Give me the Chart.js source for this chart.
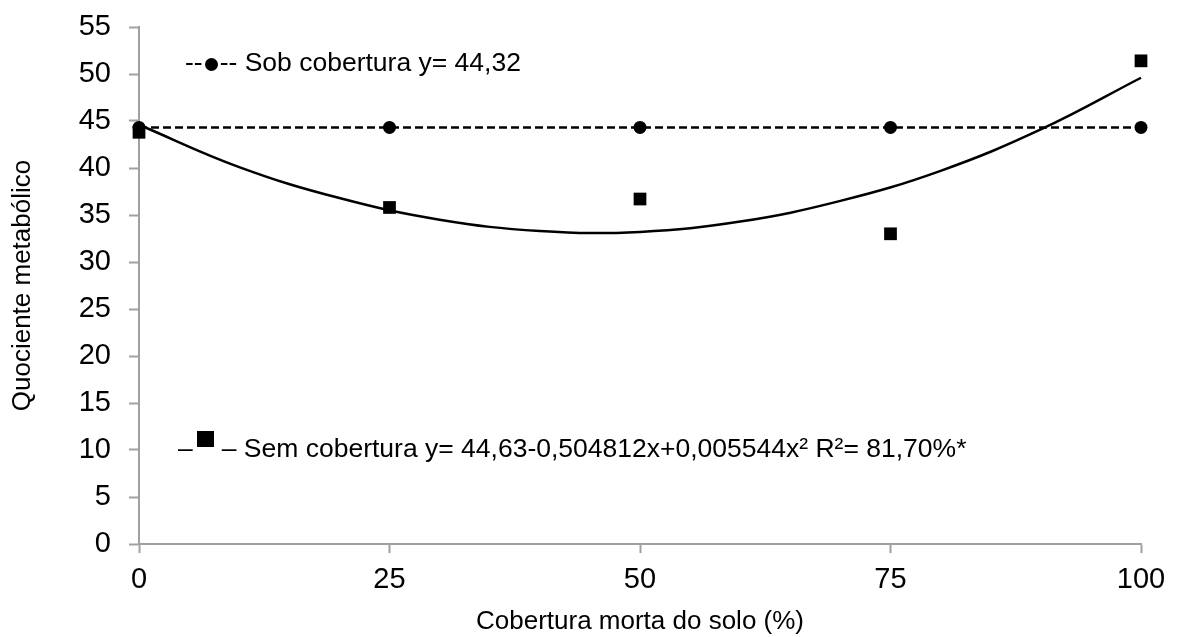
<!DOCTYPE html>
<html>
<head>
<meta charset="utf-8">
<script src="https://cdn.jsdelivr.net/npm/chart.js@4"></script>
<style>
  body { margin: 0; background: #fff; }
  #wrap { position: relative; width: 1180px; height: 637px; }
  .leg { position: absolute; font-family: "Liberation Sans", Arial, sans-serif; font-size: 26.5px; line-height: 30px; color: #000; white-space: nowrap; }
  .dot { display: inline-block; width: 13px; height: 13px; border-radius: 50%; background: #000; vertical-align: middle; margin: 0 2px; }
  .sq { display: inline-block; width: 17px; height: 16px; background: #000; vertical-align: 10px; margin: 0 8px 0 4px; }
</style>
</head>
<body>
<div id="wrap">
  <canvas id="grafico" width="1180" height="637"></canvas>
  <div class="leg" style="left:185px; top:47px;">--<span class="dot"></span>-- Sob cobertura y= 44,32</div>
  <div class="leg" style="left:178px; top:431px;">–<span class="sq"></span>– Sem cobertura y= 44,63-0,504812x+0,005544x² R²= 81,70%*</div>
</div>
<script>
// Dados
const coberturas = [0, 25, 50, 75, 100];
const sobCobertura = [44.32, 44.32, 44.32, 44.32, 44.32];
const semCobertura = [43.8, 35.8, 36.7, 33.0, 51.4];

// Curva ajustada
const xCurva = [0, 10, 20, 30, 40, 50, 60, 70, 80, 90, 100];
const yCurva = [44.6, 40.1, 36.8, 34.5, 33.3, 33.2, 34.3, 36.5, 39.7, 44.1, 49.6];

const xTicks = [0, 25, 50, 75, 100];
const yTicks = [0, 5, 10, 15, 20, 25, 30, 35, 40, 45, 50, 55];

const pares = (xs, ys) => xs.map((x, i) => ({ x: x, y: ys[i] }));

const cinza = '#a0a0a0';
const fonte = "'Liberation Sans', Arial, sans-serif";

const ctx = document.getElementById('grafico').getContext('2d');
new Chart(ctx, {
  type: 'line',
  data: {
    datasets: [
      {
        label: 'Sob cobertura',
        data: pares(coberturas, sobCobertura),
        borderColor: '#000',
        backgroundColor: '#000',
        borderWidth: 2.5,
        borderDash: [8, 4],
        pointStyle: 'circle',
        pointRadius: 6.5,
        pointBorderWidth: 0,
        fill: false,
        clip: false
      },
      {
        label: 'Sem cobertura',
        data: pares(coberturas, semCobertura),
        showLine: false,
        borderColor: '#000',
        backgroundColor: '#000',
        pointStyle: 'rect',
        pointRadius: 9,
        pointBorderWidth: 0,
        clip: false
      },
      {
        label: 'Ajuste',
        data: pares(xCurva, yCurva),
        borderColor: '#000',
        borderWidth: 2.5,
        pointRadius: 0,
        tension: 0.4,
        fill: false,
        clip: false
      }
    ]
  },
  options: {
    responsive: false,
    animation: false,
    devicePixelRatio: 1,
    layout: { padding: { top: 27, right: 39, left: 0, bottom: 0 } },
    plugins: {
      legend: { display: false },
      tooltip: { enabled: false }
    },
    scales: {
      x: {
        type: 'linear',
        min: 0,
        max: 100,
        afterBuildTicks: (s) => { s.ticks = xTicks.map(v => ({ value: v })); },
        afterFit: (s) => { s.height = 93; s.paddingLeft = 0; s.paddingRight = 0; },
        grid: { drawOnChartArea: false, drawTicks: true, tickLength: 9, tickWidth: 2, color: cinza },
        border: { color: cinza, width: 2 },
        ticks: { color: '#000', font: { family: fonte, size: 29 }, padding: 10, maxRotation: 0 },
        title: {
          display: true,
          text: 'Cobertura morta do solo (%)',
          color: '#000',
          font: { family: fonte, size: 26 },
          padding: { top: 0, bottom: 0 }
        }
      },
      y: {
        min: 0,
        max: 55,
        afterBuildTicks: (s) => { s.ticks = yTicks.map(v => ({ value: v })); },
        afterFit: (s) => { s.width = 139; s.paddingTop = 0; s.paddingBottom = 0; },
        grid: { drawOnChartArea: false, drawTicks: true, tickLength: 10, tickWidth: 2, color: cinza },
        border: { color: cinza, width: 2 },
        ticks: { color: '#000', font: { family: fonte, size: 29 }, padding: 18 },
        title: {
          display: true,
          text: 'Quociente metabólico',
          color: '#000',
          font: { family: fonte, size: 26 },
          padding: { top: 7, bottom: 0 }
        }
      }
    }
  }
});
</script>
</body>
</html>
